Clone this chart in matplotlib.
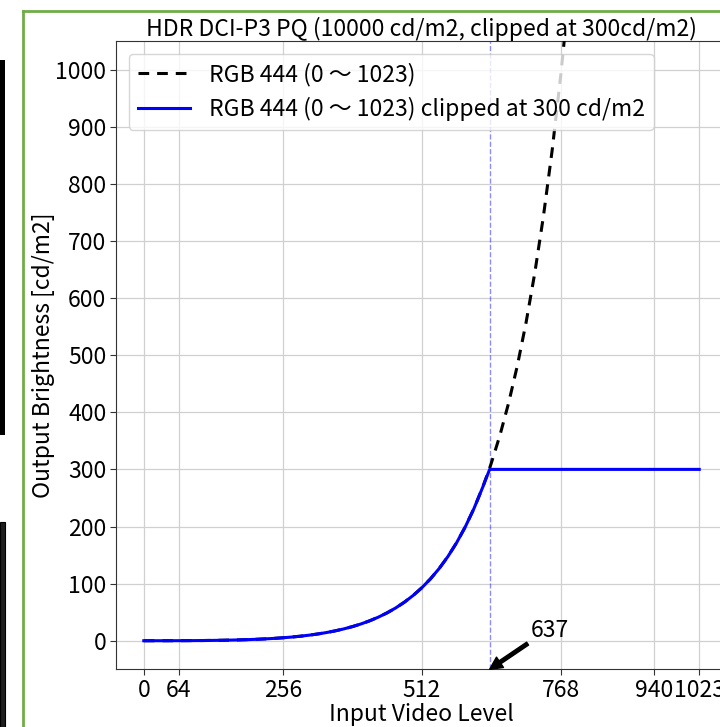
import numpy as np
import matplotlib
matplotlib.use("Agg")
import matplotlib.pyplot as plt
from matplotlib.patches import Rectangle
from matplotlib.lines import Line2D

plt.rcParams['font.family'] = ['Noto Sans CJK JP', 'DejaVu Sans']

# Input video level (10-bit code) and output brightness [cd/m2]
codes = [0, 16, 32, 48, 64, 80, 96, 112, 128, 144, 160, 176, 192, 208, 224,
         240, 256, 272, 288, 304, 320, 336, 352, 368, 384, 400, 416, 432, 448,
         464, 480, 496, 512, 528, 544, 560, 576, 592, 608, 624, 637, 640, 656,
         672, 688, 704, 720, 736, 752, 768, 784, 800, 816, 832, 848, 864, 880,
         896, 912, 928, 944, 960, 976, 992, 1008, 1023]
full_nits = [0.00, 0.01, 0.02, 0.05, 0.10, 0.17, 0.27, 0.41, 0.60, 0.83, 1.13,
             1.51, 1.98, 2.56, 3.27, 4.13, 5.17, 6.42, 7.91, 9.68, 11.79, 14.27,
             17.20, 20.64, 24.67, 29.39, 34.89, 41.31, 48.78, 57.45, 67.52,
             79.19, 92.70, 108.33, 126.40, 147.27, 171.36, 199.15, 231.21,
             268.17, 302.31, 310.77, 359.85, 416.40, 481.56, 556.62, 643.10,
             742.76, 857.61, 990.01, 1142.70, 1318.83, 1522.09, 1756.79,
             2027.92, 2341.33, 2703.85, 3123.48, 3609.58, 4173.17, 4827.16,
             5586.80, 6470.04, 7498.10, 8696.11, 10000.00]
clipped_nits = [0.00, 0.01, 0.02, 0.05, 0.10, 0.17, 0.27, 0.41, 0.60, 0.83, 1.13,
                1.51, 1.98, 2.56, 3.27, 4.13, 5.17, 6.42, 7.91, 9.68, 11.79, 14.27,
                17.20, 20.64, 24.67, 29.39, 34.89, 41.31, 48.78, 57.45, 67.52,
                79.19, 92.70, 108.33, 126.40, 147.27, 171.36, 199.15, 231.21,
                268.17, 300, 300, 300, 300, 300, 300, 300, 300, 300, 300, 300,
                300, 300, 300, 300, 300, 300, 300, 300, 300, 300, 300, 300, 300,
                300, 300]
clip_code = 637
x_ticks = [0, 64, 256, 512, 768, 940, 1023]
y_ticks = [0, 100, 200, 300, 400, 500, 600, 700, 800, 900, 1000]

FS = 16.5
fig = plt.figure(figsize=(7.2, 7.27), dpi=100)
ax = fig.add_axes([116/720, 1 - 669.3/727, 611/720, 628.3/727])

ax.plot(codes, full_nits, '--', color='black', lw=2.2, dashes=(3.5, 2.6),
        label='RGB 444 (0 ～ 1023)', zorder=3)
ax.plot(codes, clipped_nits, '-', color='blue', lw=2.2,
        label='RGB 444 (0 ～ 1023) clipped at 300 cd/m2', zorder=4)
ax.axvline(clip_code, color='blue', alpha=0.45, lw=1, ls='--', zorder=2)

ax.set_xlim(-51.15, 1074.15)
ax.set_ylim(-50, 1050)
ax.set_xticks(x_ticks)
ax.set_xticklabels([str(t) for t in x_ticks])
ax.set_yticks(y_ticks)
ax.tick_params(labelsize=FS, length=4, color='#333333', pad=3)
ax.grid(True, color='#d0d0d0', lw=0.9)
ax.set_axisbelow(True)
for s in ax.spines.values():
    s.set_color('#333333')

ax.set_title('HDR DCI-P3 PQ (10000 cd/m2, clipped at 300cd/m2)', fontsize=FS, pad=2)
ax.set_xlabel('Input Video Level', fontsize=FS, labelpad=1)
ax.set_ylabel('Output Brightness [cd/m2]', fontsize=FS, labelpad=0)

ax.legend(loc='upper left', fontsize=FS, handlelength=2.3, framealpha=0.8,
          borderaxespad=0.55, labelspacing=0.45, borderpad=0.4)

ax.annotate(str(clip_code), xy=(clip_code, -50), xytext=(712, 7),
            fontsize=FS,
            arrowprops=dict(facecolor='black', edgecolor='black', width=2.5,
                            headwidth=9, headlength=9, shrink=0.0))

# screenshot frame
fig.add_artist(Line2D([23/720, 1], [1 - 11/727, 1 - 11/727], color='#70ad47', lw=2,
                      transform=fig.transFigure))
fig.add_artist(Line2D([23/720, 23/720], [0, 1 - 11/727], color='#70ad47', lw=2,
                      transform=fig.transFigure))
fig.add_artist(Rectangle((0, 1 - 435/727), 5/720, 375/727, facecolor='black',
                         edgecolor='none', transform=fig.transFigure))
fig.add_artist(Rectangle((0, 0), 5/720, 205/727, facecolor='#1e1e1e',
                         edgecolor='black', lw=0.8, transform=fig.transFigure))

fig.savefig('out.png', dpi=100)
